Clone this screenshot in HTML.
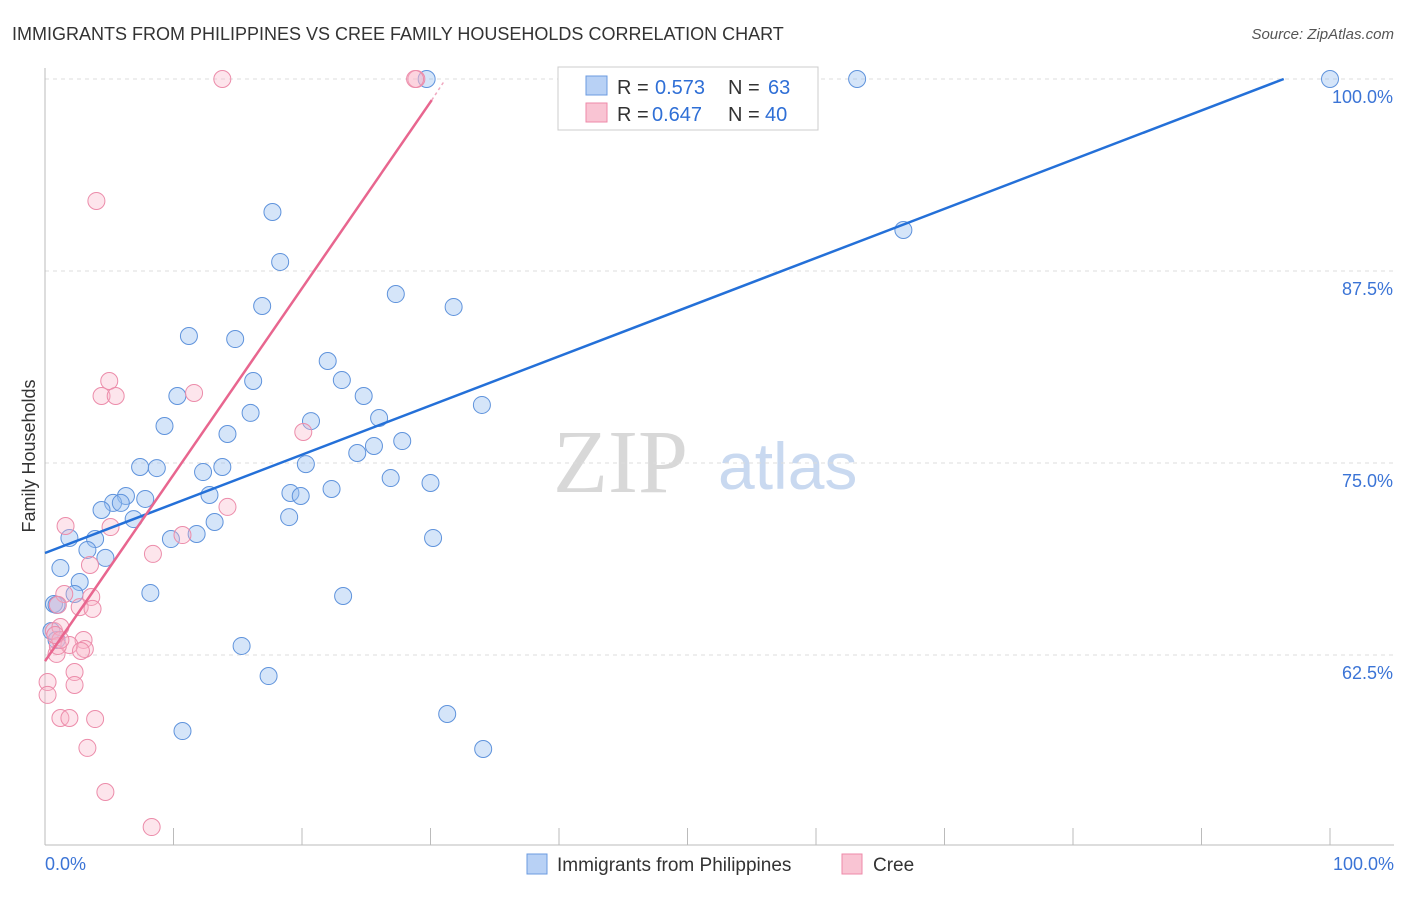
<!DOCTYPE html>
<html><head><meta charset="utf-8"><style>
body{margin:0;background:#fff;font-family:"Liberation Sans",sans-serif}
</style></head><body>
<svg id="c" width="1406" height="892" xmlns="http://www.w3.org/2000/svg">
<text x="12" y="40" font-size="18" fill="#333">IMMIGRANTS FROM PHILIPPINES VS CREE FAMILY HOUSEHOLDS CORRELATION CHART</text>
<text x="1394" y="39" font-size="15" fill="#555" font-style="italic" text-anchor="end">Source: ZipAtlas.com</text>
<text x="35" y="456" font-size="18" fill="#333" text-anchor="middle" transform="rotate(-90 35 456)">Family Households</text>
<g><text x="553" y="492" font-size="90" font-family="Liberation Serif,serif" fill="#d8d8d8">ZIP</text><text x="718" y="489" font-size="66" fill="#c9d9f0">atlas</text></g>
<g id="grid"></g><g id="pts"></g><g id="lines"></g>
<g>
<rect x="558" y="67" width="260" height="63" fill="#fff" stroke="#ccc"/>
<rect x="586" y="76" width="21" height="19" fill="#b8d1f5" stroke="#6b9be0"/>
<rect x="586" y="103" width="21" height="19" fill="#f9c4d3" stroke="#ee8aa8"/>
<text x="617" y="94" font-size="20" fill="#333">R =</text><text x="655" y="94" font-size="20" fill="#2f6fd6">0.573</text>
<text x="728" y="94" font-size="20" fill="#333">N =</text><text x="768" y="94" font-size="20" fill="#2f6fd6">63</text>
<text x="617" y="121" font-size="20" fill="#333">R =</text><text x="652" y="121" font-size="20" fill="#2f6fd6">0.647</text>
<text x="728" y="121" font-size="20" fill="#333">N =</text><text x="765" y="121" font-size="20" fill="#2f6fd6">40</text>
</g>
<g>
<rect x="527" y="854" width="20" height="20" fill="#b8d1f5" stroke="#6b9be0"/>
<text x="557" y="871" font-size="19" fill="#333">Immigrants from Philippines</text>
<rect x="842" y="854" width="20" height="20" fill="#f9c4d3" stroke="#ee8aa8"/>
<text x="873" y="871" font-size="19" fill="#333">Cree</text>
</g>
</svg>
<script>
const yTicks=[100,87.5,75,62.5];
const yTickLabels=["100.0%","87.5%","75.0%","62.5%"];
const xTickLabels=["0.0%","100.0%"];
const blueX=[29.7,63.2,100,66.8,17.7,18.3,16.9,27.3,31.8,11.2,14.8,22,23.1,16.2,10.3,24.8,16,20.7,26,34,9.3,14.2,27.8,25.6,24.3,7.4,8.7,20.3,13.8,12.3,26.9,30,22.3,6.3,19.1,19.9,12.8,5.3,5.9,7.8,4.4,6.9,19,13.2,11.8,9.8,1.9,3.9,30.2,3.3,4.7,1.2,2.7,2.3,8.2,23.2,0.7,0.9,0.5,15.3,0.9,17.4,31.3,10.7,34.1];
const blueY=[100,100,100,90.17,91.34,88.09,85.22,86,85.16,83.27,83.07,81.64,80.4,80.34,79.36,79.36,78.26,77.73,77.93,78.78,77.41,76.89,76.43,76.11,75.65,74.74,74.67,74.93,74.74,74.41,74.02,73.7,73.31,72.85,73.05,72.85,72.92,72.4,72.4,72.66,71.94,71.35,71.48,71.16,70.38,70.05,70.12,70.05,70.12,69.34,68.82,68.16,67.25,66.47,66.54,66.34,65.82,65.76,64.06,63.09,63.48,61.13,58.66,57.55,56.38];
const pinkX=[13.8,28.9,4,5,4.4,5.5,11.6,20.1,14.2,10.7,1.6,5.1,8.4,3.5,1.5,3.6,1,2.7,3.7,0.7,1.2,0.9,3,1.9,3.1,1,2.8,2.3,0.2,2.3,0.2,1.2,1.9,3.9,3.3,4.7,8.3,28.8,1.2,0.8];
const pinkY=[100,100,92.06,80.34,79.36,79.36,79.56,77.02,72.14,70.31,70.9,70.83,69.08,68.36,66.47,66.28,65.76,65.62,65.5,64.06,64.32,62.57,63.48,63.15,62.89,63.09,62.76,61.39,60.74,60.55,59.9,58.4,58.4,58.33,56.45,53.58,51.3,100,63.48,63.8];
const blueLine=[[0,69.14],[96.4,100]];
const pinkLine=[[0,62.1],[30.1,98.63]];
const pinkExt=[[30.1,98.63],[31.1,99.9]];
const X=v=>45+v*12.85, Y=v=>79+(100-v)*15.36;
const NS="http://www.w3.org/2000/svg";
function mk(t,a,p){const e=document.createElementNS(NS,t);for(const k in a)e.setAttribute(k,a[k]);p.appendChild(e);return e;}
const g=document.getElementById('grid');
yTicks.forEach((t,i)=>{
 const l=mk('line',{x1:45,x2:1394,y1:Y(t),y2:Y(t),stroke:'#ddd','stroke-dasharray':'4,4'},g);
 
 
 const tx=mk('text',{x:1393,y:Y(t)+24,'font-size':18,fill:'#3b74d6','text-anchor':'end'},g);
 tx.textContent=yTickLabels[i];
 
 
});
const ax=mk('line',{x1:45,x2:45,y1:68,y2:845,stroke:'#bbb'},g);


const bx=mk('line',{x1:45,x2:1394,y1:845,y2:845,stroke:'#bbb'},g);


for(let i=1;i<=10;i++){const t=mk('line',{x1:X(i*10),x2:X(i*10),y1:828,y2:845,stroke:'#bbb'},g);
 
 }
[[0,'start',45],[100,'end',1394]].forEach((d,i)=>{const t=mk('text',{x:d[2],y:870,'font-size':18,fill:'#3b74d6','text-anchor':d[1]},g);t.textContent=xTickLabels[i];
 
 });
const p=document.getElementById('pts');
blueX.forEach((x,i)=>{const c=mk('circle',{cx:X(x),cy:Y(blueY[i]),r:8.5,fill:'rgba(150,190,240,0.4)',stroke:'#5f93dc','stroke-width':1},p);
 
 });
pinkX.forEach((x,i)=>{const c=mk('circle',{cx:X(x),cy:Y(pinkY[i]),r:8.5,fill:'rgba(248,180,200,0.35)',stroke:'#ec8caa','stroke-width':1},p);
 
 });
const L=document.getElementById('lines');
const b=mk('line',{x1:X(blueLine[0][0]),y1:Y(blueLine[0][1]),x2:X(blueLine[1][0]),y2:Y(blueLine[1][1]),stroke:'#2470d8','stroke-width':2.5},L);


const pk=mk('line',{x1:X(pinkLine[0][0]),y1:Y(pinkLine[0][1]),x2:X(pinkLine[1][0]),y2:Y(pinkLine[1][1]),stroke:'#e8668f','stroke-width':2.5},L);


const pe=mk('line',{x1:X(pinkExt[0][0]),y1:Y(pinkExt[0][1]),x2:X(pinkExt[1][0]),y2:Y(pinkExt[1][1]),stroke:'#f0a8c0','stroke-width':1.5,'stroke-dasharray':'3,3'},L);


</script>
</body></html>
